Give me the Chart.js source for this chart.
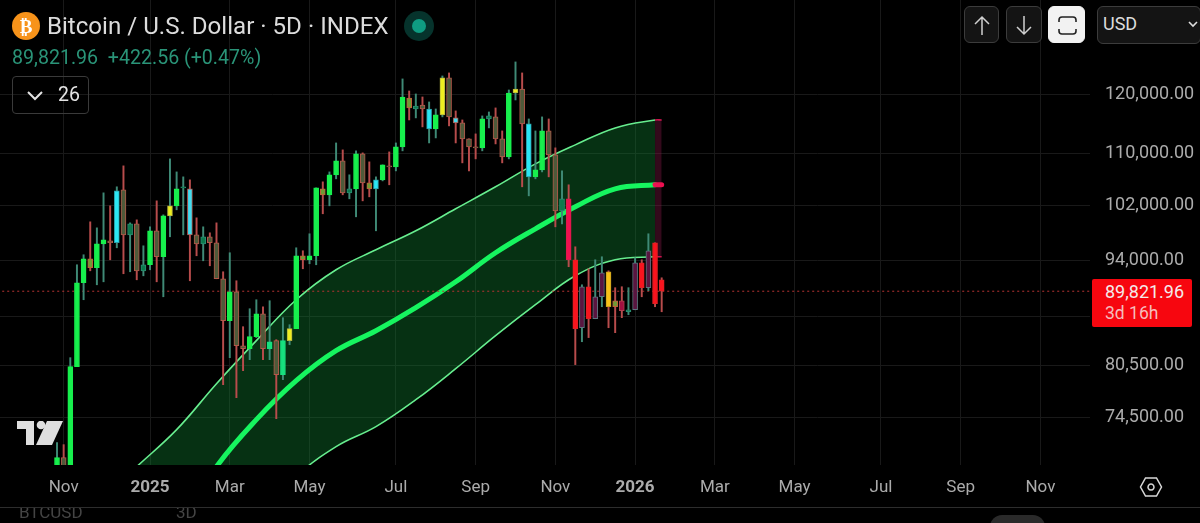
<!DOCTYPE html>
<html>
<head>
<meta charset="utf-8">
<title>BTCUSD 5D</title>
<script src="https://cdn.jsdelivr.net/npm/chart.js@4/dist/chart.umd.min.js"></script>
<style>
  html, body { margin: 0; padding: 0; background: #000; }
  #wrap { position: relative; width: 1200px; height: 523px; overflow: hidden; font-family: Roboto, sans-serif; }
  canvas { position: absolute; left: 0; top: 0; }
  .abs { position: absolute; white-space: nowrap; }
  .btn { position: absolute; box-sizing: border-box; top: 6px; height: 37px; border: 1px solid #3c3c3c; border-radius: 6px; background: #141414; }
  .btn svg { position: absolute; left: 0; top: 0; }
</style>
</head>
<body>
<div id="wrap">
  <canvas id="chart" width="1200" height="523"></canvas>

  <!-- header -->
  <div class="abs" style="left:12px;top:12px;width:28px;height:28px;border-radius:50%;background:#f7931a;color:#fff;font:bold 19px/28px 'DejaVu Sans';text-align:center;">₿</div>
  <div class="abs" style="left:47px;top:11px;font-size:24.1px;line-height:30px;color:#dcdcdc;">Bitcoin / U.S. Dollar · 5D · INDEX</div>
  <div class="abs" style="left:404px;top:11px;width:30px;height:30px;border-radius:50%;background:#06332c;"></div>
  <div class="abs" style="left:412px;top:19px;width:14px;height:14px;border-radius:50%;background:#0f9c82;"></div>
  <div class="abs" style="left:12px;top:46px;font-size:19.6px;line-height:24px;color:#2a9478;">89,821.96&nbsp; +422.56 (+0.47%)</div>
  <div class="abs" style="left:12px;top:76px;width:77px;height:38px;box-sizing:border-box;border:1px solid #3a3a3a;border-radius:4px;"></div>
  <svg class="abs" style="left:26px;top:90px" width="20" height="12"><path d="M2 2 L9 9 L16 2" fill="none" stroke="#e4e4e4" stroke-width="2"/></svg>
  <div class="abs" style="left:58px;top:82px;font-size:19.5px;line-height:26px;color:#e4e4e4;">26</div>

  <!-- top right buttons -->
  <div class="btn" style="left:964px;width:35px;"><svg width="35" height="37"><path d="M17 28 V10 M10 17 L17 10 L24 17" fill="none" stroke="#d0d0d0" stroke-width="1.5"/></svg></div>
  <div class="btn" style="left:1006px;width:36px;"><svg width="36" height="37"><path d="M17 9 V27 M10 20 L17 27 L24 20" fill="none" stroke="#d0d0d0" stroke-width="1.5"/></svg></div>
  <div class="btn" style="left:1048px;width:37px;background:#f2f2f2;border-color:#f2f2f2;"><svg width="37" height="37"><path d="M10 15 V13 Q10 10 13 10 H24 Q27 10 27 13 V15 M10 22 V24 Q10 27 13 27 H24 Q27 27 27 24 V22" fill="none" stroke="#222" stroke-width="1.6"/></svg></div>
  <div class="btn" style="left:1097px;width:104px;height:38px;"><svg width="104" height="36"><path d="M91 15 L95 19 L99 15" fill="none" stroke="#ddd" stroke-width="1.6"/></svg></div>
  <div class="abs" style="left:1103px;top:12px;font-size:18px;line-height:24px;color:#dcdcdc;">USD</div>

  <!-- last price tag -->
  <div class="abs" style="left:1092px;top:279px;width:100px;height:48px;background:#f7060f;border-radius:2px;"></div>
  <div class="abs" style="left:1105px;top:280px;font-size:18px;line-height:23px;color:#f4eaea;">89,821.96</div>
  <div class="abs" style="left:1105px;top:302px;font-size:17.5px;line-height:23px;color:#f5bcbc;">3d 16h</div>

  <!-- watermark logo -->
  <svg class="abs" style="left:17px;top:421px" width="47" height="25"><path d="M0 0 H17 V24 H9 V8 H0 Z" fill="#dedede"/><circle cx="24" cy="4" r="4.3" fill="#dedede"/><path d="M30 0 H46 L35 24 H19 Z" fill="#dedede"/></svg>

  <!-- settings -->
  <svg class="abs" style="left:1139px;top:476px" width="24" height="22"><path d="M6.5 2 H17.5 L22.5 11 L17.5 20 H6.5 L1.5 11 Z M12 8 A3 3 0 1 0 12.01 8 Z" fill="none" stroke="#d8d8d8" stroke-width="1.5"/></svg>

  <!-- cropped panel below -->
  <div class="abs" style="left:0;top:507px;width:1200px;height:1px;background:#2d2d2d;"></div>
  <div class="abs" style="left:0;top:508px;width:1200px;height:15px;overflow:hidden;">
    <div class="abs" style="left:19px;top:-6px;font-size:17px;line-height:20px;color:#444;">BTCUSD</div>
    <div class="abs" style="left:176px;top:-6px;font-size:17px;line-height:20px;color:#444;">3D</div>
    <div class="abs" style="left:990px;top:7px;width:55px;height:30px;border-radius:12px;background:#2a2a2a;"></div>
  </div>
</div>

<script>
/* ── Candles, in price, one entry per 5D bar ─────────────────────────── */
const opens = [
  69020, 70260, 69020, 80360, 90950, 94230, 92990, 96330, 96760, 96480,
  104320, 97620, 99220, 92570, 93400, 98200, 94510, 100400, 101890, 104630,
  104480, 97620, 96330, 97340, 96480, 91490, 85990, 89750, 82880, 82510,
  84000, 86890, 82510, 83500, 79410, 83500, 84990, 94650, 94090, 94650,
  104480, 103560, 106660, 108880, 103860, 104480, 110010, 105400, 104480, 105870,
  108080, 107920, 111150, 119470, 117550, 118240, 114140, 114140, 116520, 123060,
  115150, 115150, 112470, 111150, 110990, 115830, 116180, 112470, 109530, 120350,
  121070, 106340, 106340, 107440, 113800, 109850, 101140, 102950, 94090, 85110,
  90420, 86250, 89090, 92440, 88570, 88570, 87140, 87400, 93680, 90290,
  96480, 91350,
];
const closes = [
  70260, 69020, 80360, 90950, 94230, 92990, 96330, 96900, 96480, 104170,
  97620, 99220, 92570, 93400, 98200, 94510, 100400, 101890, 104480, 104790,
  97620, 96330, 97340, 96480, 91490, 85990, 89750, 82880, 82510, 84000,
  86890, 82510, 83370, 79410, 83500, 84990, 94650, 94090, 94650, 104630,
  103560, 106660, 108880, 103860, 104480, 110010, 105400, 104480, 105870, 108240,
  107920, 111150, 119650, 117730, 118070, 117550, 117550, 116520, 123060, 116180,
  116010, 112470, 111150, 110990, 115830, 116350, 112470, 109530, 120350, 121070,
  114990, 114990, 107440, 113800, 109850, 101140, 102950, 94090, 84990, 90420,
  86250, 89090, 92300, 87790, 87790, 87270, 87400, 93680, 90290, 95350,
  88180, 89821.96,
];
const highs = [
  71830, 71620, 81430, 93400, 94790, 99510, 98630, 103860, 101890, 104790,
  108080, 99360, 99800, 96050, 98780, 102640, 100540, 109200, 107120, 106340,
  105870, 100100, 98780, 97910, 99360, 92440, 95070, 91220, 85240, 87530,
  88700, 87790, 88570, 83620, 86380, 85490, 95770, 95350, 97770, 104630,
  105560, 107120, 111800, 110660, 106660, 110500, 110170, 108720, 106340, 108240,
  110330, 111800, 122880, 120710, 120180, 119650, 118770, 117550, 123420, 123970,
  117210, 115660, 112470, 113300, 116350, 117030, 117730, 113800, 120890, 126000,
  123970, 115830, 113800, 116180, 115830, 110990, 107280, 105100, 95910, 90680,
  92850, 94090, 94510, 92570, 90290, 90420, 90290, 94370, 94090, 97770,
  96480, 91620,
];
const lows = [
  69020, 69020, 69020, 80360, 88700, 92570, 90680, 91080, 94090, 95770,
  92170, 92440, 91350, 91890, 92710, 91080, 89090, 97340, 101290, 97620,
  91220, 94650, 93950, 93260, 91490, 78250, 81430, 76760, 79880, 81190,
  83880, 81190, 81190, 74420, 78830, 83000, 84990, 92850, 93540, 93400,
  100700, 101890, 106030, 103560, 102950, 100250, 102640, 103250, 98200, 105710,
  105100, 107280, 110500, 115660, 116010, 114480, 111800, 112630, 116180, 114650,
  111800, 108560, 107280, 109200, 110500, 114310, 111640, 108560, 109200, 119120,
  104790, 103400, 106030, 107120, 106340, 98780, 99220, 93130, 80600, 83370,
  83880, 86250, 87790, 85110, 84490, 86380, 86760, 87400, 89090, 89890,
  87790, 87140,
];
const kinds = [
  'up', 'down', 'up', 'up', 'up', 'mix', 'up', 'up', 'down', 'cyan',
  'down', 'teal', 'down', 'teal', 'up', 'down', 'up', 'yellow', 'up', 'teal',
  'cyanDown', 'down', 'teal', 'down', 'down', 'down', 'up', 'down', 'down', 'up',
  'up', 'down', 'mint', 'down', 'mint', 'yellow', 'up', 'mix', 'up', 'up',
  'mix', 'up', 'up', 'down', 'teal', 'up', 'down', 'mix', 'cyan', 'up',
  'down', 'up', 'up', 'mix', 'teal', 'down', 'cyan', 'up', 'yellow', 'down',
  'cyanDown', 'down', 'down', 'down', 'up', 'teal', 'down', 'down', 'up', 'yellow',
  'down', 'cyan', 'up', 'up', 'down', 'down', 'teal', 'crimson', 'red', 'maroon',
  'red', 'maroon', 'maroon', 'amber', 'mix', 'plum', 'teal', 'maroon', 'red', 'maroon',
  'red', 'red',
];

/* ── Band, read every six bars ───────────────────────────────────────── */
const bandBars  = [12, 18, 24, 30, 36, 42, 48, 54, 60, 66, 72, 78, 84, 90, 91];
const bandUpper = [69330, 73220, 78360, 83500, 88700, 92710, 95490, 98200, 101440, 104790, 108400, 111480, 114310, 115660, 115660];
const bandMid   = [56950, 63140, 69330, 74310, 78710, 82270, 84730, 87660, 91080, 95070, 98490, 101740, 104480, 105100, 105100];
const bandLower = [49140, 53690, 58650, 63620, 68290, 71410, 73550, 76530, 80120, 84110, 88050, 91890, 94090, 94510, 94510];

/* ── Axes ────────────────────────────────────────────────────────────── */
const lastPrice = 89821.96;
const priceTicks = [120000, 110000, 102000, 94000, 86500, 80500, 74500];
const hiddenPriceTick = 86500;   // sits behind the red price tag
const timeTicks  = [1, 14, 26, 38, 51, 63, 75, 87, 99, 111, 124, 136, 148];
const timeLabels = ['Nov', '2025', 'Mar', 'May', 'Jul', 'Sep', 'Nov', '2026', 'Mar', 'May', 'Jul', 'Sep', 'Nov'];

const WICK_UP = '#3f8a76';
const WICK_DN = '#b84c4c';
const STYLES = {
  up:       { fill: '#17f04d', line: '#17f04d', wick: WICK_UP },
  down:     { fill: '#4e5a3a', line: '#b3584a', wick: WICK_DN },
  mix:      { fill: '#6f9a34', line: '#c0603a', wick: WICK_DN },
  teal:     { fill: '#0c7a4c', line: '#2a8f72', wick: WICK_UP },
  mint:     { fill: '#17e07e', line: '#17e07e', wick: WICK_UP },
  cyan:     { fill: '#2be6f4', line: '#2b9fa8', wick: WICK_UP },
  cyanDown: { fill: '#42dcef', line: '#b05a50', wick: WICK_DN },
  yellow:   { fill: '#eeee20', line: '#b0b040', wick: WICK_UP },
  red:      { fill: '#f8141e', line: '#e02024', wick: WICK_DN },
  crimson:  { fill: '#f0104f', line: '#d81c4c', wick: WICK_DN },
  plum:     { fill: '#a01040', line: '#b0404e', wick: WICK_DN },
  maroon:   { fill: '#5a1540', line: '#5f7480', wick: WICK_UP },
  amber:    { fill: '#f8c018', line: '#c8a020', wick: WICK_DN },
};

const GRID_COLOR = '#191919';
const AXIS_TEXT  = '#ababab';
const BAND_LINE  = '#67ee8f';
const BAND_FILL  = 'rgba(16, 130, 50, 0.38)';
const END_FILL   = 'rgba(140, 25, 75, 0.36)';
const END_LINE   = '#c8144c';
const MID_LINE   = '#16f55f';
const END_MID    = '#ec1050';
const END_BAR    = 90;   // band turns red from here on

const style = kinds.map(k => STYLES[k]);
const wicks  = highs.map((h, i) => ({ x: i, y: [lows[i], h] }));
const bodies = opens.map((o, i) => ({ x: i, y: [o, closes[i]] }));
const toBand = arr => arr.map((v, i) => ({ x: bandBars[i], y: v }));
const isEnd  = ctx => ctx.p0.parsed.x >= END_BAR;

new Chart(document.getElementById('chart'), {
  data: {
    datasets: [
      {
        type: 'line', data: toBand(bandUpper), order: 6,
        borderColor: BAND_LINE, borderWidth: 1.6, pointRadius: 0, tension: 0.4,
        fill: 2, backgroundColor: BAND_FILL,
        segment: {
          borderColor: ctx => isEnd(ctx) ? END_LINE : undefined,
          backgroundColor: ctx => isEnd(ctx) ? END_FILL : BAND_FILL,
        },
      },
      {
        type: 'line', data: toBand(bandMid), order: 4,
        borderColor: MID_LINE, borderWidth: 5, pointRadius: 0, tension: 0.4,
        borderCapStyle: 'round',
        segment: { borderColor: ctx => isEnd(ctx) ? END_MID : undefined },
      },
      {
        type: 'line', data: toBand(bandLower), order: 5,
        borderColor: BAND_LINE, borderWidth: 1.6, pointRadius: 0, tension: 0.4,
        segment: { borderColor: ctx => isEnd(ctx) ? END_LINE : undefined },
      },
      {
        type: 'line', order: 3,
        data: [{ x: -9, y: lastPrice }, { x: 156, y: lastPrice }],
        borderColor: '#b83434', borderWidth: 1, borderDash: [2, 3], pointRadius: 0,
      },
      {
        type: 'bar', data: wicks, order: 2, grouped: false, barThickness: 1.3,
        backgroundColor: style.map(s => s.wick), borderWidth: 0,
      },
      {
        type: 'bar', data: bodies, order: 1, grouped: false, barThickness: 5,
        backgroundColor: style.map(s => s.fill), borderColor: style.map(s => s.line),
        borderWidth: 1, borderSkipped: false,
      },
    ],
  },
  options: {
    responsive: false,
    animation: false,
    layout: { padding: 0 },
    plugins: { legend: { display: false }, tooltip: { enabled: false } },
    scales: {
      x: {
        type: 'linear', min: -8.58, max: 155.46, offset: false,
        grid: { color: GRID_COLOR, drawTicks: false, offset: false },
        border: { display: false },
        afterBuildTicks: s => { s.ticks = timeTicks.map(v => ({ value: v })); },
        afterFit: s => { s.height = 58; s.paddingLeft = 0; s.paddingRight = 0; },
        ticks: {
          autoSkip: false, maxRotation: 0, padding: 13, color: AXIS_TEXT,
          callback: v => timeLabels[timeTicks.indexOf(v)],
          font: ctx => ({
            family: 'Roboto', size: 17,
            weight: /^\d/.test(ctx.tick && ctx.tick.label) ? '700' : '400',
          }),
        },
      },
      y: {
        type: 'logarithmic', position: 'right', min: 69500, max: 138060,
        grid: { color: GRID_COLOR, drawTicks: false },
        border: { display: false },
        afterBuildTicks: s => { s.ticks = priceTicks.map(v => ({ value: v })); },
        afterFit: s => { s.width = 110; s.paddingTop = 0; s.paddingBottom = 0; },
        ticks: {
          autoSkip: false, padding: 15, color: AXIS_TEXT,
          font: { family: 'Roboto', size: 18 },
          callback: v => v === hiddenPriceTick ? '' : v.toLocaleString('en-US', { minimumFractionDigits: 2 }),
        },
      },
    },
  },
});
</script>
</body>
</html>
